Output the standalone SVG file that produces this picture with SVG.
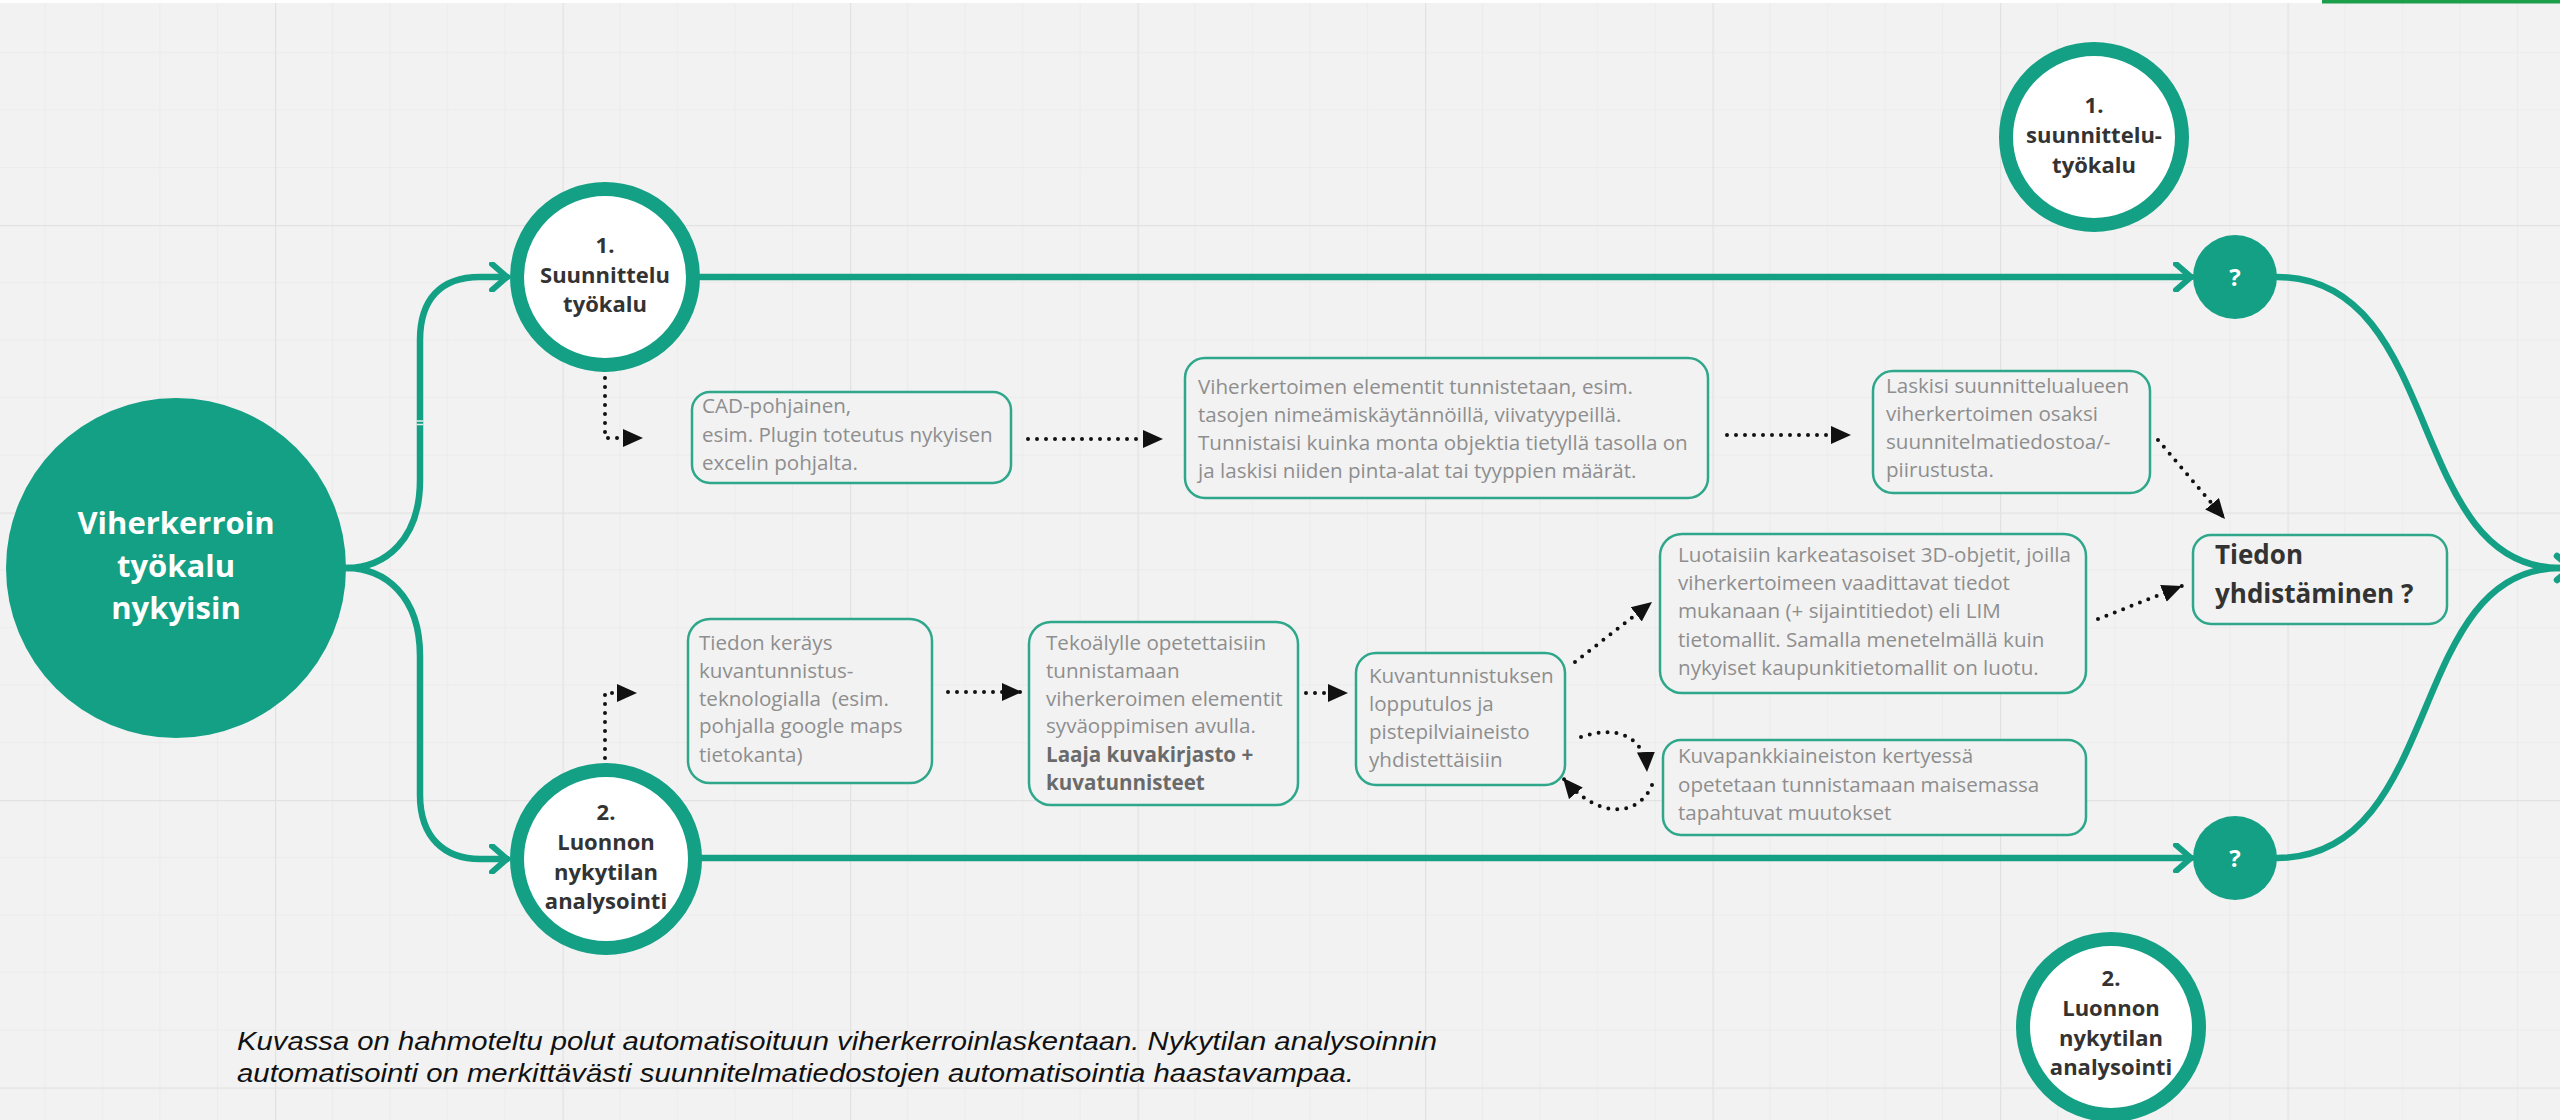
<svg xmlns="http://www.w3.org/2000/svg" width="2560" height="1120" viewBox="0 0 2560 1120">
  <style>
    .hub { fill: #14a084; }
    .ring { fill: #ffffff; stroke: #14a084; stroke-width: 14; }
    .ring-text { font-family: "Open Sans", "Noto Sans", sans-serif; font-weight: 700; font-size: 22px; fill: #333333; text-anchor: middle; }
    .hub-text { font-family: "Open Sans", "Noto Sans", sans-serif; font-weight: 700; font-size: 31px; fill: #ffffff; text-anchor: middle; }
    .q-text { font-family: "Open Sans", "Noto Sans", sans-serif; font-weight: 700; font-size: 24px; fill: #ffffff; text-anchor: middle; }
    .box { fill: #f2f2f2; stroke: #2fa78b; stroke-width: 2.5; }
    .box-text { font-family: "Open Sans", "Noto Sans", sans-serif; font-size: 20.6px; fill: #8e8e8e; white-space: pre; }
    .box-bold { font-weight: 700; fill: #6a6a6a; }
    .merge-text { font-family: "Open Sans", "Noto Sans", sans-serif; font-weight: 700; font-size: 26px; fill: #333333; }
    .flow { fill: none; stroke: #14a084; stroke-width: 6.5; stroke-linecap: round; stroke-linejoin: round; }
    .dots { fill: none; stroke: #111111; stroke-width: 4; stroke-linecap: round; stroke-dasharray: 0 9; }
    .caption { font-family: "Liberation Sans", Arial, sans-serif; font-style: italic; font-size: 26px; fill: #111111; }
  </style>
  <defs>
    <pattern id="grid" width="287.5" height="287.5" x="-12.5" y="-62.5" patternUnits="userSpaceOnUse">
      <g stroke="#ebebeb" stroke-width="1">
        <path d="M57.5,0V287.5M115,0V287.5M172.5,0V287.5M230,0V287.5"/>
        <path d="M0,57.5H287.5M0,115H287.5M0,172.5H287.5M0,230H287.5"/>
      </g>
      <path d="M0.5,0V287.5M0,0.5H287.5" stroke="#e2e2e2" stroke-width="1.5"/>
    </pattern>
    <marker id="chevron" viewBox="0 0 22 30" refX="18" refY="15" markerWidth="22" markerHeight="30" markerUnits="userSpaceOnUse" orient="auto">
      <path d="M3,2 L18,15 L3,28" fill="none" stroke="#14a084" stroke-width="6" stroke-linecap="round" stroke-linejoin="round"/>
    </marker>
    <marker id="tri" viewBox="0 0 20 20" refX="20" refY="10" markerWidth="20" markerHeight="20" markerUnits="userSpaceOnUse" orient="auto">
      <path d="M0,1 L20,10 L0,19 Z" fill="#111111"/>
    </marker>
  </defs>

  <!-- canvas -->
  <rect width="2560" height="1120" fill="#f2f2f2"/>
  <rect width="2560" height="1120" fill="url(#grid)"/>
  <rect width="2560" height="3" fill="#ffffff"/>
  <rect x="2322" y="0" width="238" height="3.5" fill="#1d9e4b"/>

  <!-- main flow lines -->
  <g id="connectors">
    <path class="flow" d="M346,568 C385,568 420,540 420,480 L420,340 C420,300 440,277 480,277 L507,277" marker-end="url(#chevron)"/>
    <path d="M416.5,421 H423.5 M416.5,424.5 H423.5" stroke="#e4ece9" stroke-width="1.5"/>
    <path class="flow" d="M346,568 C385,568 420,596 420,656 L420,795 C420,838 445,859 480,859 L507,859" marker-end="url(#chevron)"/>
    <path class="flow" d="M701,277 L2191,277" marker-end="url(#chevron)"/>
    <path class="flow" d="M702,858 L2191,858" marker-end="url(#chevron)"/>
    <path class="flow" d="M2277,277 C2445,277 2405,568 2560,568"/>
    <path class="flow" d="M2277,858 C2445,858 2405,568 2560,568"/>
    <path class="flow" d="M2557,556 L2571,568 L2557,580"/>

    <!-- dotted process arrows -->
    <path class="dots" d="M605,378 L605,438 L643,438" marker-end="url(#tri)"/>
    <path class="dots" d="M1028,439 L1163,439" marker-end="url(#tri)"/>
    <path class="dots" d="M1727,435 L1851,435" marker-end="url(#tri)"/>
    <path class="dots" d="M2158,440 L2225,519" marker-end="url(#tri)"/>
    <path class="dots" d="M2098,619 L2182,586" marker-end="url(#tri)"/>
    <path class="dots" d="M605,758 L605,693 L637,693" marker-end="url(#tri)"/>
    <path class="dots" d="M948,692 L1022,692" marker-end="url(#tri)"/>
    <path class="dots" d="M1306,693 L1348,693" marker-end="url(#tri)"/>
    <path class="dots" d="M1575,662 L1652,602" marker-end="url(#tri)"/>
    <path class="dots" d="M1581,737 C1615,725 1645,735 1647,772" marker-end="url(#tri)"/>
    <path class="dots" d="M1652,785 C1640,815 1600,822 1563,778" marker-end="url(#tri)"/>
  </g>

  <g id="node-hub">
    <circle class="hub" cx="176" cy="568" r="170"/>
    <text class="hub-text" x="176" y="534">Viherkerroin</text>
    <text class="hub-text" x="176" y="577">työkalu</text>
    <text class="hub-text" x="176" y="619">nykyisin</text>
  </g>

  <g id="node-design-tool">
    <circle class="ring" cx="605" cy="277" r="88"/>
    <text class="ring-text" x="605" y="253">1.</text>
    <text class="ring-text" x="605" y="283">Suunnittelu</text>
    <text class="ring-text" x="605" y="312">työkalu</text>
  </g>

  <g id="node-nature-analysis">
    <circle class="ring" cx="606" cy="859" r="89"/>
    <text class="ring-text" x="606" y="820">2.</text>
    <text class="ring-text" x="606" y="850">Luonnon</text>
    <text class="ring-text" x="606" y="880">nykytilan</text>
    <text class="ring-text" x="606" y="909">analysointi</text>
  </g>

  <g id="node-q1">
    <circle class="hub" cx="2235" cy="277" r="42"/>
    <text class="q-text" x="2235" y="286">?</text>
  </g>

  <g id="node-q2">
    <circle class="hub" cx="2235" cy="858" r="42"/>
    <text class="q-text" x="2235" y="867">?</text>
  </g>

  <g id="node-legend-1">
    <circle class="ring" cx="2094" cy="137" r="88"/>
    <text class="ring-text" x="2094" y="113">1.</text>
    <text class="ring-text" x="2094" y="143">suunnittelu-</text>
    <text class="ring-text" x="2094" y="173">työkalu</text>
  </g>

  <g id="node-legend-2">
    <circle class="ring" cx="2111" cy="1027" r="88"/>
    <text class="ring-text" x="2111" y="986">2.</text>
    <text class="ring-text" x="2111" y="1016">Luonnon</text>
    <text class="ring-text" x="2111" y="1046">nykytilan</text>
    <text class="ring-text" x="2111" y="1075">analysointi</text>
  </g>

  <g id="box-cad">
    <rect class="box" x="692" y="392" width="319" height="91" rx="18"/>
    <text class="box-text" x="702" y="413">CAD-pohjainen,</text>
    <text class="box-text" x="702" y="442">esim. Plugin toteutus nykyisen</text>
    <text class="box-text" x="702" y="470">excelin pohjalta.</text>
  </g>

  <g id="box-elements">
    <rect class="box" x="1185" y="358" width="523" height="140" rx="20"/>
    <text class="box-text" x="1198" y="394">Viherkertoimen elementit tunnistetaan, esim.</text>
    <text class="box-text" x="1198" y="422">tasojen nimeämiskäytännöillä, viivatyypeillä.</text>
    <text class="box-text" x="1198" y="450">Tunnistaisi kuinka monta objektia tietyllä tasolla on</text>
    <text class="box-text" x="1198" y="478">ja laskisi niiden pinta-alat tai tyyppien määrät.</text>
  </g>

  <g id="box-calculate">
    <rect class="box" x="1873" y="371" width="277" height="122" rx="20"/>
    <text class="box-text" x="1886" y="393">Laskisi suunnittelualueen</text>
    <text class="box-text" x="1886" y="421">viherkertoimen osaksi</text>
    <text class="box-text" x="1886" y="449">suunnitelmatiedostoa/-</text>
    <text class="box-text" x="1886" y="477">piirustusta.</text>
  </g>

  <g id="box-collect">
    <rect class="box" x="688" y="619" width="244" height="164" rx="22"/>
    <text class="box-text" x="699" y="650">Tiedon keräys</text>
    <text class="box-text" x="699" y="678">kuvantunnistus-</text>
    <text class="box-text" x="699" y="706">teknologialla  (esim.</text>
    <text class="box-text" x="699" y="733">pohjalla google maps</text>
    <text class="box-text" x="699" y="762">tietokanta)</text>
  </g>

  <g id="box-train">
    <rect class="box" x="1029" y="622" width="269" height="183" rx="22"/>
    <text class="box-text" x="1046" y="650">Tekoälylle opetettaisiin</text>
    <text class="box-text" x="1046" y="678">tunnistamaan</text>
    <text class="box-text" x="1046" y="706">viherkeroimen elementit</text>
    <text class="box-text" x="1046" y="733">syväoppimisen avulla.</text>
    <text class="box-text box-bold" x="1046" y="762">Laaja kuvakirjasto +</text>
    <text class="box-text box-bold" x="1046" y="790">kuvatunnisteet</text>
  </g>

  <g id="box-combine">
    <rect class="box" x="1356" y="653" width="209" height="132" rx="20"/>
    <text class="box-text" x="1369" y="683">Kuvantunnistuksen</text>
    <text class="box-text" x="1369" y="711">lopputulos ja</text>
    <text class="box-text" x="1369" y="739">pistepilviaineisto</text>
    <text class="box-text" x="1369" y="767">yhdistettäisiin</text>
  </g>

  <g id="box-lim">
    <rect class="box" x="1660" y="534" width="426" height="159" rx="22"/>
    <text class="box-text" x="1678" y="562">Luotaisiin karkeatasoiset 3D-objetit, joilla</text>
    <text class="box-text" x="1678" y="590">viherkertoimeen vaadittavat tiedot</text>
    <text class="box-text" x="1678" y="618">mukanaan (+ sijaintitiedot) eli LIM</text>
    <text class="box-text" x="1678" y="647">tietomallit. Samalla menetelmällä kuin</text>
    <text class="box-text" x="1678" y="675">nykyiset kaupunkitietomallit on luotu.</text>
  </g>

  <g id="box-changes">
    <rect class="box" x="1663" y="740" width="423" height="95" rx="18"/>
    <text class="box-text" x="1678" y="763">Kuvapankkiaineiston kertyessä</text>
    <text class="box-text" x="1678" y="792">opetetaan tunnistamaan maisemassa</text>
    <text class="box-text" x="1678" y="820">tapahtuvat muutokset</text>
  </g>

  <g id="box-merge">
    <rect class="box" x="2193" y="535" width="254" height="89" rx="18"/>
    <text class="merge-text" x="2215" y="564">Tiedon</text>
    <text class="merge-text" x="2215" y="603">yhdistäminen ?</text>
  </g>

  <g id="caption">
    <text class="caption" x="237" y="1050" textLength="1200" lengthAdjust="spacingAndGlyphs">Kuvassa on hahmoteltu polut automatisoituun viherkerroinlaskentaan. Nykytilan analysoinnin</text>
    <text class="caption" x="237" y="1082" textLength="1117" lengthAdjust="spacingAndGlyphs">automatisointi on merkittävästi suunnitelmatiedostojen automatisointia haastavampaa.</text>
  </g>
</svg>
